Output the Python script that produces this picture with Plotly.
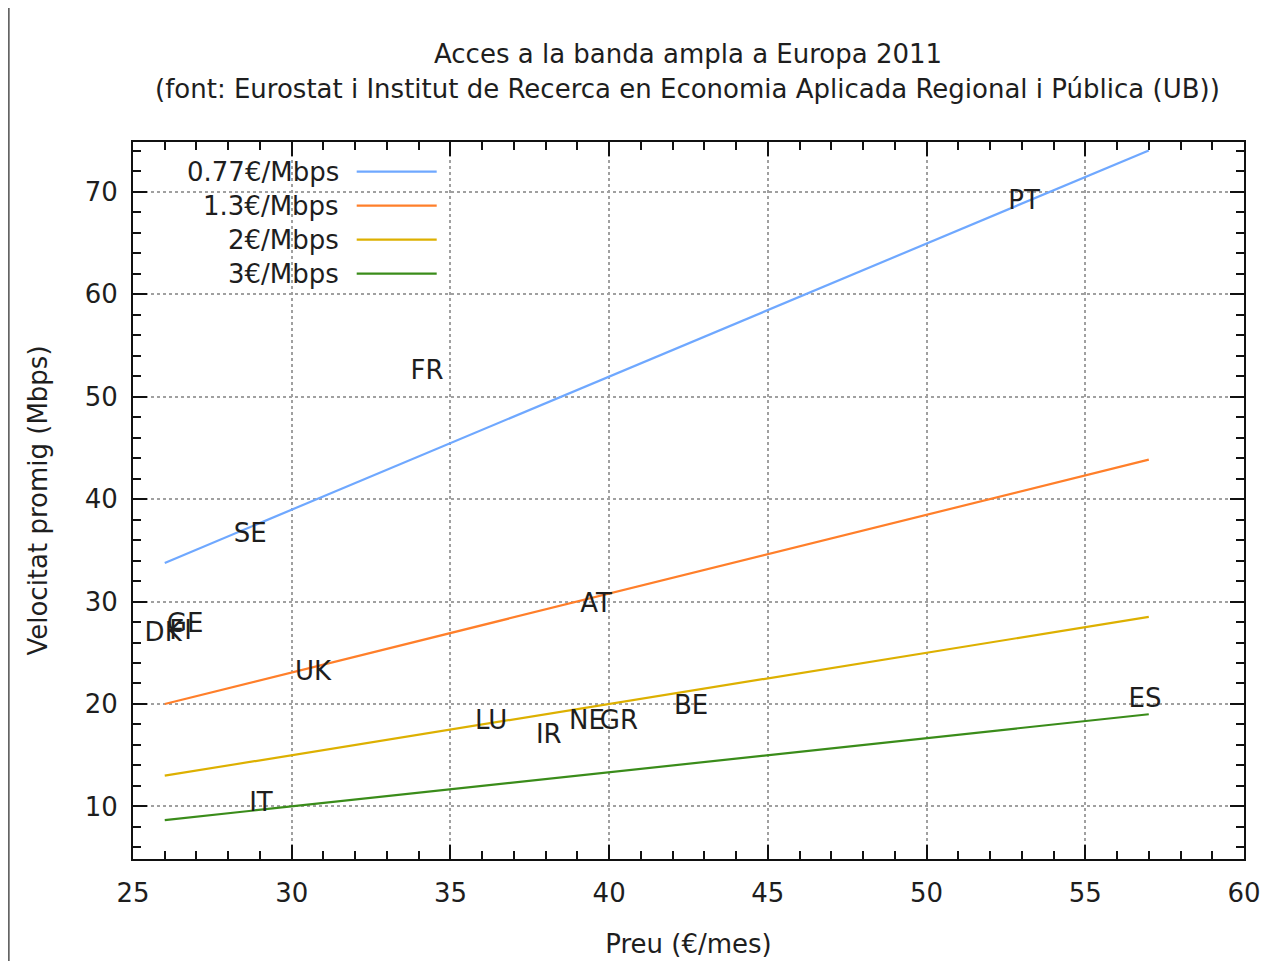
import plotly.graph_objects as go

# ---- data ----
series_names = ["0.77€/Mbps", "1.3€/Mbps", "2€/Mbps", "3€/Mbps"]
series_colors = ["#6fa8ff", "#ff7f2a", "#ddb000", "#3a8c1a"]
line_x = [26, 57]
line_y = [
    [33.77, 74.03],
    [20.0, 43.85],
    [13.0, 28.5],
    [8.67, 19.0],
]

countries = ["PT", "FR", "SE", "DK", "FI", "GE", "UK", "AT", "LU", "IR", "NE", "GR", "BE", "ES", "IT"]
price = [53.07, 34.26, 28.69, 25.95, 26.5, 26.64, 30.67, 39.59, 36.28, 38.1, 39.3, 40.31, 42.58, 56.88, 29.03]
speed = [68.9, 52.4, 36.4, 26.8, 27.0, 27.7, 23.0, 29.6, 18.2, 16.8, 18.2, 18.2, 19.7, 20.3, 10.2]

title_lines = ["Acces a la banda ampla a Europa 2011",
               "(font: Eurostat i Institut de Recerca en Economia Aplicada Regional i Pública (UB))"]
x_title = "Preu (€/mes)"
y_title = "Velocitat promig (Mbps)"

FONT = "DejaVu Sans"
FS = 26
TXT = "#1e1e1e"

OFF = 8  # page body margin
# plot area in reference pixels
RL, RR, RT, RB = 133.3, 1244.3, 142.3, 859.3
W, H = 1272 - OFF, 961 - OFF
L, R, T, B = RL - OFF, RR - OFF, RT - OFF, RB - OFF

def px_to_paper_x(px):
    return (px - RL) / (RR - RL)

def px_to_paper_y(py):
    return (RB - py) / (RB - RT)

fig = go.Figure()
for name, col, ys in zip(series_names, series_colors, line_y):
    fig.add_trace(go.Scatter(x=line_x, y=ys, mode="lines", name=name,
                             line=dict(color=col, width=2.2), showlegend=False))

fig.add_trace(go.Scatter(x=price, y=speed, mode="text", text=countries,
                         textposition="middle center",
                         textfont=dict(family=FONT, size=FS, color=TXT),
                         showlegend=False))

shapes = []
# gray outer border emulation (left strip)
shapes.append(dict(type="rect", xref="paper", yref="paper",
                   x0=px_to_paper_x(10), x1=px_to_paper_x(1300),
                   y0=px_to_paper_y(1000), y1=px_to_paper_y(-20),
                   fillcolor="white", line=dict(width=0), layer="below"))

annotations = []
# gnuplot-style key
for i, (name, col) in enumerate(zip(series_names, series_colors)):
    yy = px_to_paper_y(172 + 34 * i)
    shapes.append(dict(type="line", xref="paper", yref="paper",
                       x0=px_to_paper_x(357), x1=px_to_paper_x(437), y0=yy, y1=yy,
                       line=dict(color=col, width=2.2)))
    annotations.append(dict(xref="paper", yref="paper", x=px_to_paper_x(341), y=yy,
                            text=name, showarrow=False, xanchor="right", yanchor="middle",
                            font=dict(family=FONT, size=FS, color=TXT)))

# title
for j, t in enumerate(title_lines):
    annotations.append(dict(xref="paper", yref="paper", x=px_to_paper_x(688), y=px_to_paper_y(54 + 35 * j),
                            text=t, showarrow=False, xanchor="center", yanchor="middle",
                            font=dict(family=FONT, size=FS, color=TXT)))

axis_common = dict(
    showline=True, linecolor="#111111", linewidth=2, mirror="allticks",
    ticks="inside", ticklen=14, tickwidth=2, tickcolor="#111111",
    showgrid=True, gridcolor="#a0a0a0", griddash="dot", gridwidth=1.5,
    zeroline=False,
    tickfont=dict(family=FONT, size=FS, color=TXT),
)

fig.update_xaxes(range=[25, 60], dtick=5, tick0=25, ticklabelstandoff=10,
                 minor=dict(dtick=1, ticks="inside", ticklen=8, tickwidth=2, tickcolor="#111111", showgrid=False),
                 title=dict(text=x_title, font=dict(family=FONT, size=FS, color=TXT), standoff=28),
                 **axis_common)
fig.update_yaxes(range=[4.87, 74.85], dtick=10, tick0=0, ticklabelstandoff=8,
                 minor=dict(dtick=2, ticks="inside", ticklen=8, tickwidth=2, tickcolor="#111111", showgrid=False),
                 title=dict(text=y_title, font=dict(family=FONT, size=FS, color=TXT), standoff=30),
                 **axis_common)

fig.update_layout(
    width=W, height=H,
    margin=dict(l=L, r=W - R, t=T, b=H - B, autoexpand=False),
    paper_bgcolor="#646464", plot_bgcolor="white",
    shapes=shapes, annotations=annotations,
    font=dict(family=FONT, size=FS, color=TXT),
)

fig.write_html("out.html")
